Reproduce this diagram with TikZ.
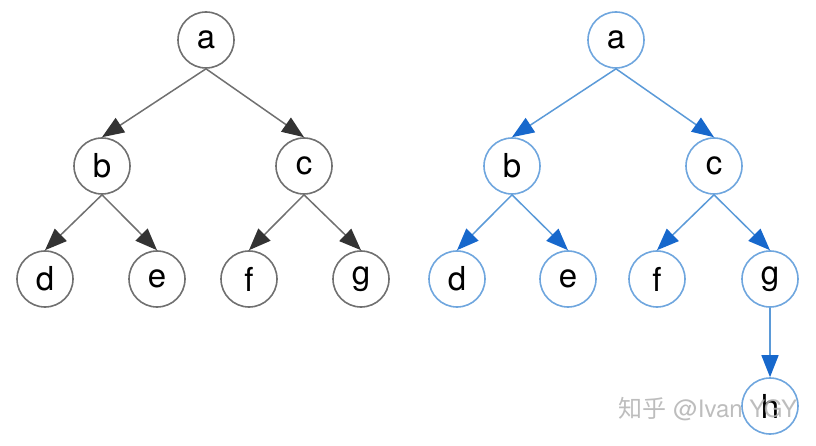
\documentclass[tikz,border=0pt]{standalone}
\usepackage{fontspec}
\setmainfont{TeX Gyre Heros}
\newfontfamily\cjk{Noto Sans CJK SC}
\usetikzlibrary{arrows.meta}
\definecolor{edgegray}{HTML}{707070}
\definecolor{tipgray}{HTML}{333333}
\definecolor{ringblue}{HTML}{6FA6DE}
\definecolor{edgeblue}{HTML}{5B9AD8}
\definecolor{tipblue}{HTML}{1768CC}
\begin{document}
\begin{tikzpicture}[x=1pt,y=-1pt,
    vtx/.style={circle,draw=edgegray,line width=1.6pt,minimum size=56pt,inner sep=0pt,font=\fontsize{33}{36}\selectfont},
    bvtx/.style={vtx,draw=ringblue},
    grayarc/.style={draw=edgegray,line width=1.5pt,-{Triangle[length=22pt,width=17pt,fill=tipgray,color=tipgray]}},
    bluearc/.style={draw=edgeblue,line width=1.5pt,-{Triangle[length=22pt,width=17pt,fill=tipblue,color=tipblue]}}]
    \useasboundingbox(0,0)rectangle(816,446);
    % left tree
    \node[vtx](a)at(206,40){a};
    \node[vtx](b)at(102,166){b};
    \node[vtx](c)at(304,166){c};
    \node[vtx](d)at(45,279){d};
    \node[vtx](e)at(157,279){e};
    \node[vtx](f)at(249,279){f};
    \node[vtx](g)at(361,279){g};
    \foreach \u/\v in {a/b,a/c,b/d,b/e,c/f,c/g}
      \draw[grayarc](\u.south)--(\v.north);
    % right tree
    \node[bvtx](ra)at(616,40){a};
    \node[bvtx](rb)at(512,166){b};
    \node[bvtx](rc)at(714,166){c};
    \node[bvtx](rd)at(457,279){d};
    \node[bvtx](re)at(568,279){e};
    \node[bvtx](rf)at(657,279){f};
    \node[bvtx](rg)at(770,279){g};
    \node[bvtx](rh)at(770,406){h};
    \foreach \u/\v in {ra/rb,ra/rc,rb/rd,rb/re,rc/rf,rc/rg,rg/rh}
      \draw[bluearc](\u.south)--(\v.north);
    % watermark
    \node[text=black!30,opacity=.85,font=\fontsize{24}{28}\selectfont](mark)at(708,409){{\cjk 知乎} @Ivan YGY};
  \end{tikzpicture}
\end{document}
